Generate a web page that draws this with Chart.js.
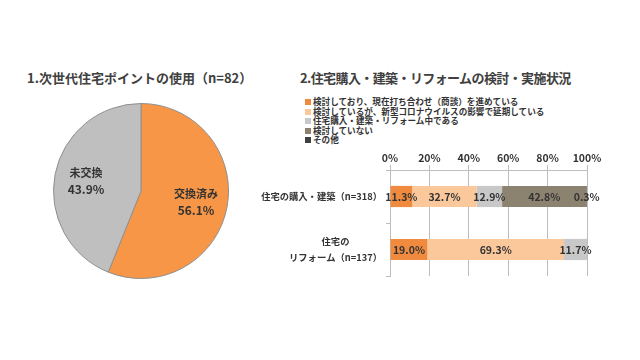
<!DOCTYPE html>
<html>
<head>
<meta charset="utf-8">
<script src="https://cdn.jsdelivr.net/npm/chart.js@4.4.0/dist/chart.umd.min.js"></script>
<style>
  body { margin: 0; background: #fff; font-family: "Noto Sans CJK JP", "Noto Sans", sans-serif; }
  #wrap { position: relative; width: 640px; height: 360px; overflow: hidden; background: #fff; }
  .title { position: absolute; font-size: 13px; font-weight: bold; color: #404040; white-space: nowrap; }
  #legend { position: absolute; left: 305px; top: 97px; font-size: 8.6px; font-weight: bold; color: #333; }
  #legend div { height: 9.6px; line-height: 9.6px; white-space: nowrap; }
  #legend span.box { display: inline-block; width: 6px; height: 6px; margin-right: 2px; vertical-align: 0px; }
  canvas { position: absolute; }
</style>
</head>
<body>
<div id="wrap">
  <div class="title" style="left:27px; top:68px;">1.次世代住宅ポイントの使用（n=82）</div>
  <div class="title" style="left:300px; top:68px; letter-spacing:-0.6px;">2.住宅購入・建築・リフォームの検討・実施状況</div>
  <div id="legend"></div>
  <div style="position:absolute; left:41px; top:91px; width:200px; height:200px;"><canvas id="pieChart"></canvas></div>
  <div style="position:absolute; left:240px; top:150px; width:400px; height:140px;"><canvas id="barChart"></canvas></div>
</div>
<script>
// 1. 次世代住宅ポイントの使用
const pieLabels = ['交換済み', '未交換'];
const pieValues = [56.1, 43.9];
const pieColors = ['#f79646', '#bfbfbf'];

// 2. 住宅購入・建築・リフォームの検討・実施状況
const barCategories = [['住宅の購入・建築（n=318）'], ['住宅の', 'リフォーム（n=137）']];
const seriesNames = [
  '検討しており、現在打ち合わせ（商談）を進めている',
  '検討しているが、新型コロナウイルスの影響で延期している',
  '住宅購入・建築・リフォーム中である',
  '検討していない',
  'その他'
];
const seriesValues = [
  [11.3, 19.0],
  [32.7, 69.3],
  [12.9, 11.7],
  [42.8, 0],
  [0.3, 0]
];
const seriesColors = ['#ef8a3f', '#fac89a', '#c8c8c8', '#8c8270', '#404040'];
const xTicks = [0, 20, 40, 60, 80, 100];

const textColor = '#333333';
const fontFamily = '"Noto Sans CJK JP", "Noto Sans", sans-serif';

// legend (HTML)
const legendEl = document.getElementById('legend');
seriesNames.forEach((name, i) => {
  const row = document.createElement('div');
  row.innerHTML = '<span class="box" style="background:' + seriesColors[i] + '"></span>' + name;
  legendEl.appendChild(row);
});

// pie labels
const pieLabelPlugin = {
  id: 'pieLabels',
  afterDatasetsDraw(chart) {
    const ctx = chart.ctx;
    const meta = chart.getDatasetMeta(0);
    ctx.save();
    ctx.fillStyle = textColor;
    ctx.textAlign = 'center';
    ctx.textBaseline = 'middle';
    meta.data.forEach((arc, i) => {
      const mid = (arc.startAngle + arc.endAngle) / 2;
      const r = arc.outerRadius * 0.64;
      const x = arc.x + Math.cos(mid) * r;
      const y = arc.y + Math.sin(mid) * r;
      ctx.font = 'bold 11px ' + fontFamily;
      ctx.fillText(pieLabels[i], x, y - 8);
      ctx.font = 'bold 12px ' + fontFamily;
      ctx.fillText(pieValues[i].toFixed(1) + '%', x, y + 9);
    });
    ctx.restore();
  }
};

new Chart(document.getElementById('pieChart').getContext('2d'), {
  type: 'pie',
  data: {
    labels: pieLabels,
    datasets: [{
      data: pieValues,
      backgroundColor: pieColors,
      borderColor: '#8f8f8f',
      borderWidth: 1
    }]
  },
  options: {
    responsive: true,
    maintainAspectRatio: false,
    animation: false,
    layout: { padding: 12 },
    plugins: { legend: { display: false }, tooltip: { enabled: false } }
  },
  plugins: [pieLabelPlugin]
});

// bar value labels and category labels
const barLabelPlugin = {
  id: 'barLabels',
  afterDatasetsDraw(chart) {
    const ctx = chart.ctx;
    ctx.save();
    ctx.fillStyle = textColor;
    ctx.font = 'bold 10.5px ' + fontFamily;
    ctx.textAlign = 'center';
    ctx.textBaseline = 'middle';
    chart.data.datasets.forEach((ds, d) => {
      chart.getDatasetMeta(d).data.forEach((bar, i) => {
        const v = ds.data[i];
        if (!v) return;
        ctx.fillText(v.toFixed(1) + '%', (bar.x + bar.base) / 2, bar.y + 1);
      });
    });
    // category labels
    const yScale = chart.scales.y;
    const right = yScale.right - 8;
    ctx.font = 'bold 9.3px ' + fontFamily;
    barCategories.forEach((lines, i) => {
      const yc = yScale.getPixelForValue(i);
      const widest = Math.max(...lines.map(l => ctx.measureText(l).width));
      const cx = right - widest / 2;
      const lh = 16;
      lines.forEach((l, k) => {
        ctx.fillText(l, cx, yc + (k - (lines.length - 1) / 2) * lh);
      });
    });
    ctx.restore();
  }
};

new Chart(document.getElementById('barChart').getContext('2d'), {
  type: 'bar',
  data: {
    labels: barCategories.map(c => c.join(' ')),
    datasets: seriesNames.map((name, i) => ({
      label: name,
      data: seriesValues[i],
      backgroundColor: seriesColors[i],
      borderWidth: 0,
      barPercentage: 0.4,
      categoryPercentage: 1.0
    }))
  },
  options: {
    indexAxis: 'y',
    responsive: true,
    maintainAspectRatio: false,
    animation: false,
    layout: { padding: { left: 0, right: 53, top: 0, bottom: 14 } },
    plugins: { legend: { display: false }, tooltip: { enabled: false } },
    scales: {
      x: {
        position: 'top',
        stacked: true,
        min: 0,
        max: 100,
        afterBuildTicks(scale) { scale.ticks = xTicks.map(v => ({ value: v })); },
        afterFit(scale) { scale.height = 20; },
        ticks: {
          callback: v => v + '%',
          color: textColor,
          font: { size: 10.5, weight: 'bold', family: fontFamily },
          padding: 1,
          maxRotation: 0
        },
        grid: { color: '#bdbdbd', tickLength: 5, drawTicks: true },
        border: { color: '#bdbdbd' }
      },
      y: {
        stacked: true,
        afterFit(scale) { scale.width = 150; },
        ticks: { callback: () => '' },
        grid: { drawOnChartArea: false, drawTicks: true, tickLength: 4, color: '#bdbdbd', offset: true },
        border: { color: '#bdbdbd' }
      }
    }
  },
  plugins: [barLabelPlugin]
});
</script>
</body>
</html>
